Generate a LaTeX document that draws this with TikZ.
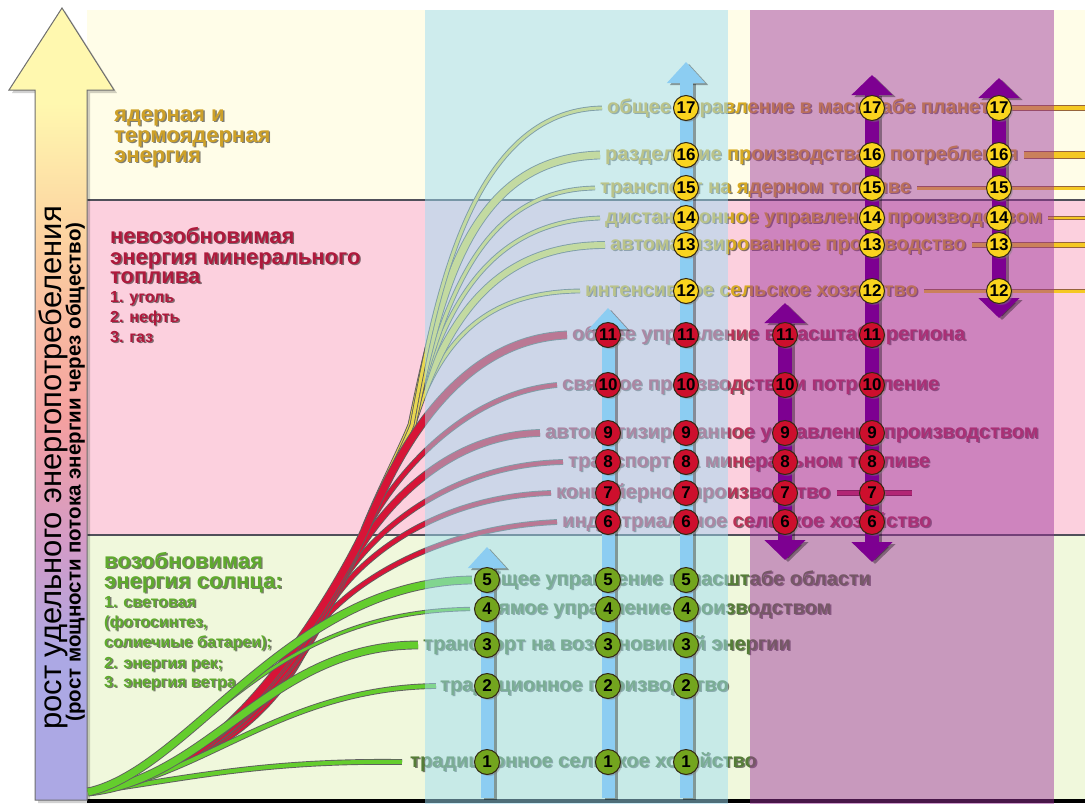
\documentclass[tikz,border=0pt]{standalone}
\usepackage{fontspec}
\setmainfont{Liberation Sans}
\usetikzlibrary{arrows.meta,shadows,fadings}
\definecolor{bandY}{RGB}{255,253,232}
\definecolor{bandP}{RGB}{252,208,222}
\definecolor{bandG}{RGB}{240,248,220}
\definecolor{ovC}{RGB}{159,221,242}
\definecolor{ovP}{RGB}{155,47,155}
\definecolor{sepC}{RGB}{80,80,90}
\definecolor{arY}{RGB}{255,248,175}
\definecolor{arO}{RGB}{252,208,160}
\definecolor{arP}{RGB}{244,160,160}
\definecolor{arM}{RGB}{210,155,200}
\definecolor{arL}{RGB}{172,168,228}
\definecolor{arB}{RGB}{110,110,110}
\definecolor{txG}{RGB}{85,125,55}
\definecolor{txR}{RGB}{185,50,85}
\definecolor{txY}{RGB}{215,170,35}
\definecolor{hdY}{RGB}{205,160,40}
\definecolor{hdR}{RGB}{175,25,60}
\definecolor{hdG}{RGB}{95,170,45}
\definecolor{tubeB}{RGB}{95,95,95}
\definecolor{tubeG}{RGB}{100,205,45}
\definecolor{tubeR}{RGB}{215,20,55}
\definecolor{tubeY}{RGB}{232,215,80}
\definecolor{lnY}{RGB}{245,200,35}
\definecolor{lnB}{RGB}{150,100,60}
\definecolor{lnR}{RGB}{200,30,85}
\definecolor{cyA}{RGB}{140,205,242}
\definecolor{puA}{RGB}{125,0,145}
\definecolor{nG}{RGB}{115,165,30}
\definecolor{nR}{RGB}{205,15,45}
\definecolor{nY}{RGB}{250,212,30}
\definecolor{nB}{RGB}{50,40,20}
\pgfdeclareverticalshading{bigarrow}{100bp}{color(0bp)=(arL); color(34bp)=(arL); color(41bp)=(arM); color(49bp)=(arP); color(60bp)=(arO); color(69bp)=(arY); color(100bp)=(arY)}
\tikzset{
 tl/.style={anchor=west, inner sep=0pt, text height=14pt, text depth=4pt, font=\bfseries\fontsize{20}{20}\selectfont},
 sl/.style={anchor=base west, inner sep=0pt, font=\bfseries\fontsize{#1}{#1}\selectfont},
 shd/.style={text=black, text opacity=.5},
 tube/.style={draw=tubeB, line width=.9pt, double distance=#1},
 gt/.style={tube=#1, double=tubeG},
 rt/.style={tube=#1, double=tubeR},
 yt/.style={tube=#1, double=tubeY},
 rl/.style={draw=lnB, line width=.8pt, double=lnY, double distance=#1},
 cyarr/.style={draw=cyA, line width=13pt, -{Triangle[width=37pt,length=21pt]}},
 puarr/.style={draw=puA, line width=14pt, {Triangle[width=40pt,length=20pt]}-{Triangle[width=40pt,length=20pt]}},
 ashd/.style={draw=black, opacity=.35, transform canvas={shift={(3pt,-2pt)}}},
 num/.style={circle, draw=nB, line width=1pt, minimum size=25pt, inner sep=0pt, text=black, font=\bfseries\fontsize{17}{17}\selectfont, circular drop shadow={shadow xshift=1.8pt, shadow yshift=-1.8pt, shadow scale=1, opacity=.5}},
 gn/.style={num, fill=nG}, rn/.style={num, fill=nR}, yn/.style={num, fill=nY}
}
\newcommand\TL[5]{\node[tl,shd] (#1s) at (#2+1.4,#3+1.4) {#5};\node[tl,text=#4] (#1) at (#2,#3) {#5};}
\newcommand\SL[6]{\node[sl=#5,shd] (#1s) at (#2+1.4,#3+1.4) {#6};\node[sl=#5,text=#4] (#1) at (#2,#3) {#6};}
\begin{document}
\begin{tikzpicture}[x=1pt,y=-1pt]
\useasboundingbox (0,0) rectangle (1085,807);
\fill[white] (0,0) rectangle (1085,807);
% bands
\fill[bandY] (87,10) rectangle (1085,200);
\fill[bandP] (87,200) rectangle (1085,535);
\fill[bandG] (87,535) rectangle (1085,800);
\draw[sepC, line width=1.5pt] (87,200) -- (1085,200);
\draw[sepC, line width=1.5pt] (87,535) -- (1085,535);
\draw[black, line width=4pt] (87,801) -- (1085,801);
% big axis arrow
\fill[black, opacity=.18] (38,803) -- (38,93) -- (12,93) -- (65,11) -- (117,93) -- (90,93) -- (90,803) -- cycle;
\path[shading=bigarrow, draw=arB, line width=1pt] (35,800) -- (35,90) -- (9,90) -- (62,8) -- (114,90) -- (87,90) -- (87,800) -- cycle;
\node[rotate=90, anchor=base, inner sep=0pt, font=\fontsize{31}{31}\selectfont] (ax1) at (61,468) {рост удельного энергопотребеления};
\node[rotate=90, anchor=base, inner sep=0pt, font=\bfseries\fontsize{20.5}{20.5}\selectfont] (ax2) at (80.5,472) {(рост мощности потока энергии через общество)};
% side labels
\SL{ha}{114}{121}{hdY}{22}{ядерная и}
\SL{hb}{114}{142}{hdY}{22}{термоядерная}
\SL{hc}{114}{162}{hdY}{22}{энергия}
\SL{ma}{110}{243}{hdR}{22}{невозобновимая}
\SL{mb}{110}{264}{hdR}{22}{энергия минерального}
\SL{mc}{110}{283}{hdR}{22}{топлива}
\SL{md}{110}{302}{hdR}{16}{1. уголь}
\SL{me}{110}{322}{hdR}{16}{2. нефть}
\SL{mf}{110}{342}{hdR}{16}{3. газ}
\SL{va}{104}{568}{hdG}{22}{возобновимая}
\SL{vb}{104}{588}{hdG}{22}{энергия солнца:}
\SL{vc}{104}{607}{hdG}{16}{1. световая}
\SL{vd}{104}{627}{hdG}{16}{(фотосинтез,}
\SL{ve}{104}{647}{hdG}{16}{солиечиые батареи);}
\SL{vf}{104}{668}{hdG}{16}{2. энергия рек;}
\SL{vg}{104}{687}{hdG}{16}{3. энергия ветра.}
% stage texts
\TL{t1}{410}{762}{txG}{традиционное сельское хозяйство}
\TL{t2}{440}{686}{txG}{традиционное производство}
\TL{t3}{423}{645}{txG}{транспорт на возобновимой энергии}
\TL{t4}{474}{609}{txG}{прямое управление производством}
\TL{t5}{476}{580}{txG}{общее управление в масштабе области}
\TL{t6}{562}{522}{txR}{индустриальное сельское хозяйство}
\TL{t7}{556}{493}{txR}{конвейерное производство}
\TL{t8}{568}{462}{txR}{транспорт на минеральном топливе}
\TL{t9}{545}{433}{txR}{автоматизированное управление производством}
\TL{t10}{562}{385}{txR}{связное производство и потребление}
\TL{t11}{572}{335}{txR}{общее управление в масштабе региона}
\TL{t12}{585}{291}{txY}{интенсивное сельское хозяйство}
\TL{t13}{610}{245}{txY}{автоматизированное производство}
\TL{t14}{605}{218}{txY}{дистанционное управление производством}
\TL{t15}{600}{188}{txY}{транспорт на ядерном топливе}
\TL{t16}{605}{155}{txY}{разделение производства и потребления}
\TL{t17}{607}{108}{txY}{общее управление в масштабе планеты}
% curves
\coordinate (gs) at (88,792);
\coordinate (rs) at (148,776);
\coordinate (ys) at (365,530);
\coordinate (yb) at (412,425);
\draw[yt=3] (ys) .. controls (380,492) and (402,450) .. (yb) .. controls (440,345) and (480,292) .. ([xshift=-5pt]t12.west);
\draw[yt=6] (ys) .. controls (380,492) and (402,450) .. (yb) .. controls (445,325) and (490,245) .. ([xshift=-5pt]t13.west);
\draw[yt=3] (ys) .. controls (380,492) and (402,450) .. (yb) .. controls (440,320) and (480,222) .. ([xshift=-5pt]t14.west);
\draw[yt=3] (ys) .. controls (380,492) and (402,450) .. (yb) .. controls (445,300) and (480,190) .. ([xshift=-5pt]t15.west);
\draw[yt=7] (ys) .. controls (380,492) and (402,450) .. (yb) .. controls (440,290) and (470,158) .. ([xshift=-5pt]t16.west);
\draw[yt=3] (ys) .. controls (380,492) and (402,450) .. (yb) .. controls (435,300) and (470,110) .. ([xshift=-5pt]t17.west);
\draw[rt=4] (rs) .. controls (250,745) and (292,680) .. (310,640) .. controls (328,600) and (420,528) .. ([xshift=-5pt]t6.west);
\draw[rt=4] (rs) .. controls (250,745) and (307,655) .. (325,615) .. controls (343,575) and (420,497) .. ([xshift=-5pt]t7.west);
\draw[rt=4] (rs) .. controls (250,745) and (317,635) .. (335,595) .. controls (353,555) and (430,465) .. ([xshift=-5pt]t8.west);
\draw[rt=6] (rs) .. controls (250,745) and (327,615) .. (345,575) .. controls (363,535) and (430,435) .. ([xshift=-5pt]t9.west);
\draw[rt=4] (rs) .. controls (250,745) and (337,595) .. (355,555) .. controls (375,500) and (450,395) .. ([xshift=-5pt]t10.west);
\draw[rt=7] (rs) .. controls (250,745) and (347,570) .. (365,530) .. controls (383,490) and (440,340) .. ([xshift=-5pt]t11.west);
\draw[gt=4] (gs) .. controls (180,780) and (260,760) .. ([xshift=-8pt]t1.west);
\draw[gt=4] (gs) .. controls (200,780) and (280,688) .. ([xshift=-4pt]t2.west);
\draw[gt=7] (gs) .. controls (210,780) and (270,645) .. ([xshift=-5pt]t3.west);
\draw[gt=2.5] (gs) .. controls (200,760) and (260,612) .. ([xshift=-4pt]t4.west);
\draw[gt=7] (gs) .. controls (190,770) and (290,582) .. ([xshift=-4pt]t5.west);
% right lines
\coordinate (r17) at (1085,108);
\coordinate (r16) at (1085,155);
\coordinate (r15) at (1085,188);
\coordinate (r14) at (1085,218);
\coordinate (r13) at (1085,245);
\coordinate (r12) at (1085,291);
\coordinate (e7) at (912,493);
\draw[rl=3.5] (t17.east) -- (r17);
\draw[rl=6] ([xshift=6pt]t16.east) -- (r16);
\draw[rl=3] ([xshift=6pt]t15.east) -- (r15);
\draw[rl=2.5] ([xshift=6pt]t14.east) -- (r14);
\draw[rl=3.5] ([xshift=6pt]t13.east) -- (r13);
\draw[rl=3] ([xshift=6pt]t12.east) -- (r12);
\draw[rl=4, draw=lnR!60!black, double=lnR] ([xshift=6pt]t7.east) -- (e7);
% overlays
\fill[ovC, opacity=.5] (425,10) rectangle (728,804);
\fill[ovP, opacity=.47] (750,10) rectangle (1054,804);
% vertical arrows
\coordinate (A1b) at (487,798); \coordinate (A1t) at (487,547);
\coordinate (A2b) at (608,798); \coordinate (A2t) at (608,308);
\coordinate (A3b) at (686,798); \coordinate (A3t) at (686,62);
\coordinate (P1t) at (785,303); \coordinate (P1b) at (785,560);
\coordinate (P2t) at (872,75);  \coordinate (P2b) at (872,562);
\coordinate (P3t) at (999,78);  \coordinate (P3b) at (999,318);
\draw[cyarr, ashd] (A1b) -- (A1t);
\draw[cyarr, ashd] (A2b) -- (A2t);
\draw[cyarr, ashd] (A3b) -- (A3t);
\draw[puarr, ashd] (P1b) -- (P1t);
\draw[puarr, ashd] (P2b) -- (P2t);
\draw[puarr, ashd] (P3b) -- (P3t);
\draw[cyarr] (A1b) -- (A1t);
\draw[cyarr] (A2b) -- (A2t);
\draw[cyarr] (A3b) -- (A3t);
\draw[puarr] (P1b) -- (P1t);
\draw[puarr] (P2b) -- (P2t);
\draw[puarr] (P3b) -- (P3t);
% numbered nodes
\foreach \n/\y in {1/762,2/686,3/645,4/609,5/580}{
  \node[gn] (a1n\n) at (487,\y) {\n};
  \node[gn] (a2n\n) at (608,\y) {\n};
  \node[gn] (a3n\n) at (686,\y) {\n};}
\foreach \n/\y in {6/522,7/493,8/462,9/433,10/385,11/335}{
  \node[rn] (a2n\n) at (608,\y) {\n};
  \node[rn] (a3n\n) at (686,\y) {\n};
  \node[rn] (p1n\n) at (785,\y) {\n};
  \node[rn] (p2n\n) at (872,\y) {\n};}
\foreach \n/\y in {12/291,13/245,14/218,15/188,16/155,17/108}{
  \node[yn] (a3n\n) at (686,\y) {\n};
  \node[yn] (p2n\n) at (872,\y) {\n};
  \node[yn] (p3n\n) at (999,\y) {\n};}
\end{tikzpicture}
\end{document}
